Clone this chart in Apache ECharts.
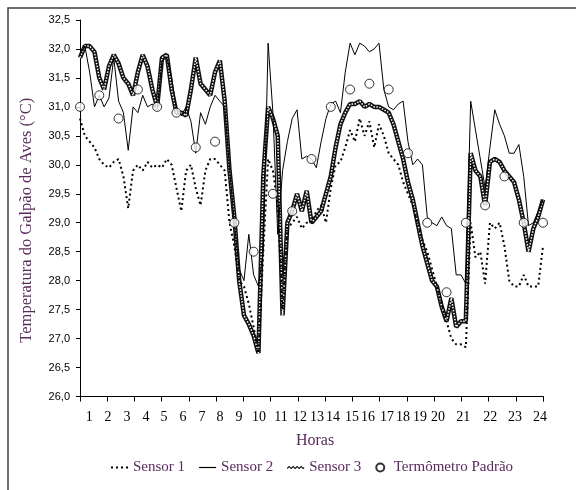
<!DOCTYPE html>
<html><head><meta charset="utf-8">
<script src="https://cdn.jsdelivr.net/npm/echarts@6/dist/echarts.min.js"></script>
<style>html,body{margin:0;padding:0;background:#fff}#c{width:576px;height:490px}</style>
</head><body><div id="c"></div>
<script>
// Tick labels of the hour axis and where they sit (in hours)
const hourLabels = ['1','2','3','4','5','6','7','8','9','10','11','12','13','14','15','16','17','18','19','20','21','22','23','24'];
const hourLabelPos = [0.48,1.45,2.44,3.42,4.35,5.34,6.32,7.26,8.24,9.28,10.42,11.4,12.29,13.11,14.1,14.93,15.91,16.74,17.63,18.56,19.86,21.26,22.55,23.85];

// Sensor readings every quarter hour (hours 0 .. 24)
const sampleStepHours = 0.25;
const sensor1 = [30.8,30.5,30.4,30.3,30.1,30.0,29.95,30.05,30.1,
  29.8,29.25,29.9,30.0,29.9,30.05,29.95,30.0,
  29.95,30.1,30.0,29.6,29.2,29.9,30.0,29.6,
  29.3,29.9,30.1,30.1,30.0,29.9,29.0,28.6,
  28.0,27.9,27.6,27.2,26.75,28.5,30.1,29.9,
  29.3,27.5,28.9,29.0,29.1,28.9,29.0,29.0,
  29.2,29.3,29.0,29.6,30.0,30.05,30.3,30.6,
  30.4,30.8,30.5,30.75,30.3,30.7,30.5,30.2,
  30.1,30.0,29.7,29.5,29.3,29.0,28.7,28.5,
  28.2,27.9,27.6,27.3,27.0,26.9,26.9,26.85,
  29.0,28.4,28.5,27.95,29.0,28.9,29.0,28.6,
  28.0,27.9,27.9,28.1,27.9,27.9,27.9,28.6];
const sensor2 = [31.9,32.05,31.6,31.0,31.2,31.0,31.15,31.85,31.1,
  30.9,30.25,31.0,30.9,31.2,31.0,31.05,30.95,
  31.8,31.85,31.5,30.95,30.85,31.0,30.75,30.2,
  30.9,30.7,31.0,31.2,31.1,31.0,29.95,29.0,
  28.2,28.0,28.8,28.1,27.9,28.5,32.1,30.9,
  28.8,29.9,30.4,30.8,30.95,30.1,30.15,30.1,
  29.95,30.4,30.8,31.05,31.1,30.9,31.6,32.1,
  31.9,32.1,32.05,31.95,32.0,32.1,31.3,31.0,
  30.95,31.05,31.1,30.4,30.0,30.1,30.0,29.1,
  29.0,28.95,29.1,28.95,28.9,28.1,28.1,27.95,
  31.1,30.6,30.1,29.6,30.3,30.95,30.7,30.5,
  30.2,30.2,30.35,29.8,28.95,29.0,29.2,29.4];
const sensor3 = [31.85,32.05,32.05,31.95,31.5,31.3,31.7,31.9,31.75,
  31.5,31.4,31.2,31.6,31.9,31.7,31.3,31.0,
  31.85,31.9,31.3,30.9,30.9,30.85,31.3,31.85,
  31.4,31.3,31.2,31.6,31.8,31.1,29.9,29.1,
  28.0,27.4,27.25,27.05,26.75,29.8,31.0,30.8,
  30.5,27.4,29.0,29.2,29.5,29.2,29.55,29.0,
  29.1,29.2,29.5,29.8,30.3,30.7,30.9,31.05,
  31.05,31.1,31.0,31.05,31.0,31.0,30.95,30.9,
  30.7,30.4,30.1,29.7,29.4,29.0,28.6,28.3,
  28.0,27.9,27.55,27.3,27.7,27.2,27.3,27.3,
  30.2,29.9,29.8,29.3,30.05,30.1,30.05,29.9,
  29.8,29.7,29.4,29.0,28.5,28.9,29.1,29.4];

// Standard thermometer, one reading per hour
const standardHours = [0,1,2,3,4,5,6,7,8,9,10,11,12,13,14,15,16,17,18,19,20,21,22,23,24];
const termometroPadrao = [31.0,31.2,30.8,31.3,31.0,30.9,30.3,30.4,29.0,28.5,29.5,29.2,30.1,31.0,31.3,31.4,31.3,30.2,29.0,27.8,29.0,29.3,29.8,29.0,29.0];

const PURPLE = '#5a2a5e';
const SERIF = '"Liberation Serif","Times New Roman",serif';
const toXY = arr => arr.map((v, i) => [i * sampleStepHours, v]);
const labelByPos = {};
hourLabelPos.forEach((p, i) => { labelByPos[p.toFixed(2)] = hourLabels[i]; });

const ICON_DOTS = 'path://M0,0h2v2h-2z M5,0h2v2h-2z M10,0h2v2h-2z M15,0h2v2h-2z';
const ICON_LINE = 'path://M0,0h17v1.2h-17z';
const ICON_WAVE = 'path://M0,2L2,0L4,2L6,0L8,2L10,0L12,2L14,0L16,2L17,1L17,2.4L16,3.4L14,1.4L12,3.4L10,1.4L8,3.4L6,1.4L4,3.4L2,1.4L0,3.4Z';

const chart = echarts.init(document.getElementById('c'), null, {renderer: 'canvas'});
chart.setOption({
  animation: false,
  backgroundColor: '#fff',
  graphic: [{
    type: 'rect', silent: true, z: -1,
    shape: {x: 8, y: 8, width: 700, height: 700},
    style: {fill: 'none', stroke: '#404040', lineWidth: 1.5}
  }],
  grid: {left: 80, right: 33, top: 20, bottom: 93.5, containLabel: false},
  legend: {
    left: 106, top: 455,
    itemWidth: 17, itemHeight: 8, itemGap: 14,
    symbolKeepAspect: true,
    data: [
      {name: 'Sensor 1', icon: ICON_DOTS, itemStyle: {color: '#000'}},
      {name: 'Sensor 2', icon: ICON_LINE, itemStyle: {color: '#000'}},
      {name: 'Sensor 3', icon: ICON_WAVE, itemStyle: {color: '#000'}},
      {name: 'Termômetro Padrão', icon: 'circle'}
    ],
    textStyle: {fontFamily: SERIF, fontSize: 15, color: PURPLE}
  },
  xAxis: [{
    type: 'value', min: 0, max: 24, interval: 24 / 17,
    name: 'Horas', nameLocation: 'middle', nameGap: 36,
    nameTextStyle: {fontFamily: SERIF, fontSize: 16, color: PURPLE, padding: [0, 0, 0, 7]},
    axisLine: {lineStyle: {color: '#000', width: 1}},
    axisTick: {show: true, length: 5, lineStyle: {color: '#000'}},
    axisLabel: {show: false},
    splitLine: {show: false}
  }, {
    type: 'value', min: 0, max: 24, position: 'bottom',
    axisLine: {show: false}, axisTick: {show: false}, splitLine: {show: false},
    axisLabel: {
      show: true, customValues: hourLabelPos, margin: 14,
      fontFamily: SERIF, fontSize: 14, color: '#000',
      formatter: v => labelByPos[Number(v).toFixed(2)] || ''
    }
  }],
  yAxis: {
    type: 'value', min: 26, max: 32.5, interval: 0.5,
    name: 'Temperatura do Galpão de Aves (°C)', nameLocation: 'middle', nameGap: 45,
    nameTextStyle: {fontFamily: SERIF, fontSize: 16.5, color: PURPLE, padding: [0, 24, 0, 0]},
    axisLine: {show: true, lineStyle: {color: '#000', width: 1}},
    axisTick: {show: true, length: 4, lineStyle: {color: '#000'}},
    axisLabel: {
      fontFamily: '"Liberation Sans", Arial, sans-serif', fontSize: 11, color: '#000', margin: 10,
      formatter: v => v.toFixed(1).replace('.', ',')
    },
    splitLine: {show: false}
  },
  series: [
    {
      name: 'Sensor 3', type: 'line', data: toXY(sensor3), showSymbol: false, symbol: 'none',
      lineStyle: {color: '#111', width: 4.5}, itemStyle: {color: '#111'}, z: 2
    },
    {
      name: 'Sensor 3 textura', type: 'line', data: toXY(sensor3), showSymbol: false, symbol: 'none', silent: true,
      lineStyle: {color: '#fff', width: 1.5, type: [1.5, 1.5]}, z: 3
    },
    {
      name: 'Sensor 1', type: 'line', data: toXY(sensor1), showSymbol: false, symbol: 'none',
      lineStyle: {color: '#000', width: 2, type: [2, 3]}, itemStyle: {color: '#000'}, z: 4
    },
    {
      name: 'Sensor 2', type: 'line', data: toXY(sensor2), showSymbol: false, symbol: 'none',
      lineStyle: {color: '#000', width: 1}, itemStyle: {color: '#000'}, z: 5
    },
    {
      name: 'Termômetro Padrão', type: 'scatter',
      data: standardHours.map((h, i) => [h, termometroPadrao[i]]),
      symbol: 'circle', symbolSize: 9, clip: false,
      itemStyle: {color: '#fff', borderColor: '#000', borderWidth: 1}, z: 10
    }
  ]
});
</script>
</body></html>
